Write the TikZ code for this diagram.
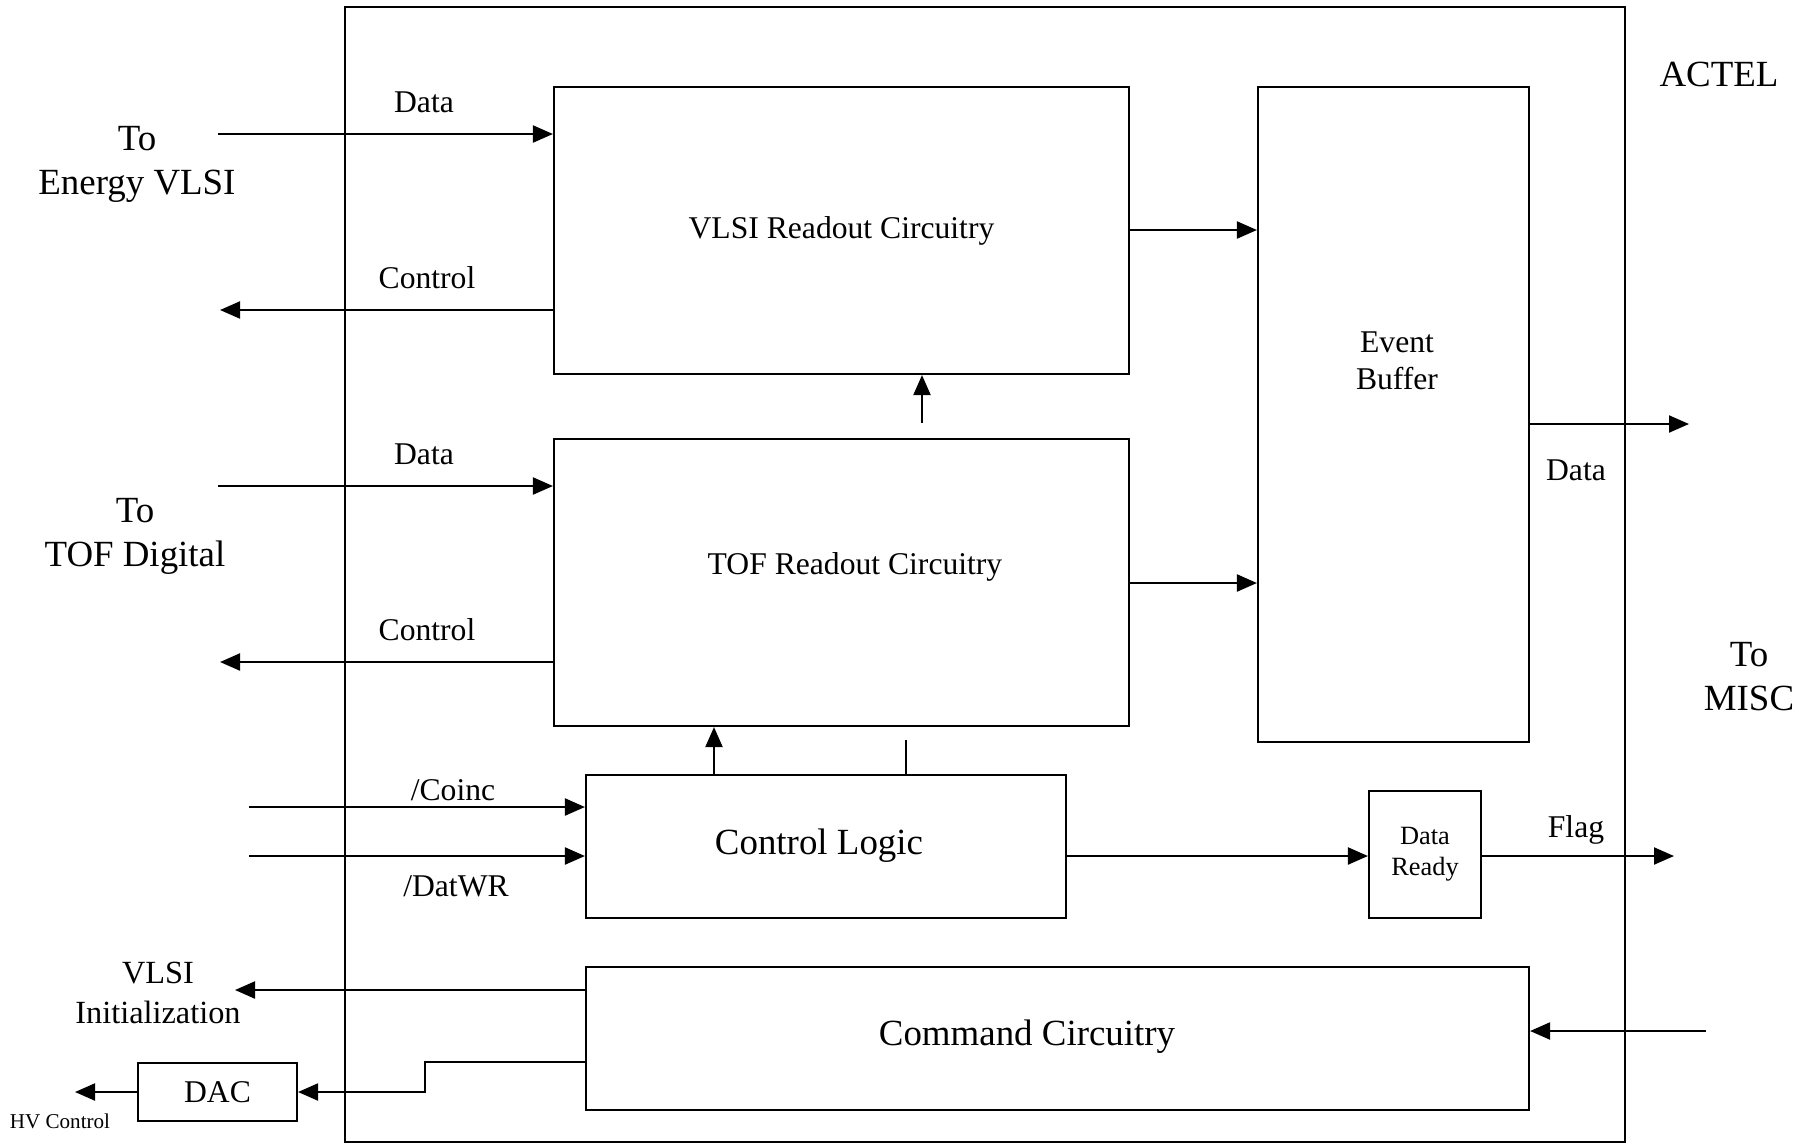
\documentclass[tikz,border=0pt]{standalone}
\usepackage{fontspec}
\setmainfont{Liberation Serif}
\usetikzlibrary{arrows.meta}

\tikzset{
  block/.style={draw, inner sep=0pt},
  arr/.style={-{Triangle[length=2mm,width=1.7mm]}},
  lbl/.style={font=\fontsize{9}{10.5}\selectfont, align=center},
  big/.style={font=\fontsize{10.5}{12.5}\selectfont, align=center}
}

\begin{document}
\begin{tikzpicture}[x=0.1mm, y=-0.1mm, line width=0.6pt]
  \useasboundingbox (0,0) rectangle (1816,1144);

  % --- ACTEL chip outline ---
  \node[block, minimum width=128mm, minimum height=113.5mm] (actel) at (985,574.5) {};
  \node[big] (actelT) at (1719,74) {ACTEL};

  % --- blocks inside the chip ---
  \node[block, minimum width=57.5mm, minimum height=28.7mm, lbl] (vlsi) at (841.5,230.5) {VLSI Readout Circuitry};
  \node[block, minimum width=57.5mm, minimum height=28.7mm] (tof) at (841.5,582.5) {};
  \node[lbl] (tofT) at (855,567) {TOF Readout Circuitry};
  \node[block, minimum width=27.1mm, minimum height=65.5mm] (buf) at (1393.5,414.5) {};
  \node[lbl] (bufT) at (1397,361) {Event\\Buffer};
  \node[block, minimum width=48mm, minimum height=14.3mm] (ctl) at (826,846.5) {};
  \node[font=\fontsize{10.5}{12.5}\selectfont] (ctlT) at (819,846) {Control Logic};
  \node[block, minimum width=11.2mm, minimum height=12.7mm, font=\fontsize{7.5}{8.9}\selectfont, align=center] (rdy) at (1425,854.5) {Data\\Ready};
  \node[block, minimum width=94.3mm, minimum height=14.3mm] (cmd) at (1057.5,1038.5) {};
  \node[font=\fontsize{10.5}{12.5}\selectfont] (cmdT) at (1027,1037) {Command Circuitry};
  \node[block, minimum width=15.9mm, minimum height=5.8mm, font=\fontsize{9}{11}\selectfont] (dac) at (217.5,1092) {DAC};

  % --- Energy VLSI side ---
  \node[big] (energy) at (137,164) {To\\Energy VLSI};
  \coordinate (eData) at (218,134);
  \coordinate (eCtl) at (220,310);
  \draw[arr] (eData) -- (eData -| vlsi.west);
  \draw[arr] (eCtl -| vlsi.west) -- (eCtl);
  \node[lbl] (eDataT) at (424,102) {Data};
  \node[lbl] (eCtlT) at (427,278) {Control};

  % --- TOF Digital side ---
  \node[big] (tofd) at (135,536) {To\\TOF Digital};
  \coordinate (tData) at (218,486);
  \coordinate (tCtl) at (220,662);
  \draw[arr] (tData) -- (tData -| tof.west);
  \draw[arr] (tCtl -| tof.west) -- (tCtl);
  \node[lbl] (tDataT) at (424,454) {Data};
  \node[lbl] (tCtlT) at (427,630) {Control};

  % --- into the event buffer ---
  \coordinate (v2b) at (1129,230);
  \coordinate (t2b) at (1129,583);
  \draw[arr] (v2b -| vlsi.east) -- (v2b -| buf.west);
  \draw[arr] (t2b -| tof.east) -- (t2b -| buf.west);
  \coordinate (upv) at (922,423);
  \draw[arr] (upv) -- (upv |- vlsi.south);

  % --- out to MISC ---
  \node[big] (misc) at (1749,677) {To\\MISC};
  \coordinate (bOut) at (1689,424);
  \draw[arr] (bOut -| buf.east) -- (bOut);
  \node[lbl] (bOutT) at (1576,470) {Data};

  % --- control logic ---
  \coordinate (c2t) at (714,760);
  \draw[arr] (c2t |- ctl.north) -- (c2t |- tof.south);
  \coordinate (tick) at (906,740);
  \draw (tick |- ctl.north) -- (tick);
  \coordinate (coinc) at (249,807);
  \coordinate (datwr) at (249,856);
  \draw[arr] (coinc) -- (coinc -| ctl.west);
  \draw[arr] (datwr) -- (datwr -| ctl.west);
  \node[lbl] (coincT) at (453,790) {/Coinc};
  \node[lbl] (datwrT) at (456,886) {/DatWR};
  \draw[arr] (datwr -| ctl.east) -- (datwr -| rdy.west);
  \coordinate (flag) at (1674,856);
  \draw[arr] (flag -| rdy.east) -- (flag);
  \node[lbl] (flagT) at (1576,830) {Flag};

  % --- command circuitry ---
  \coordinate (cmdIn) at (1706,1031);
  \draw[arr] (cmdIn) -- (cmdIn -| cmd.east);
  \coordinate (init) at (235,990);
  \draw[arr] (init -| cmd.west) -- (init);
  \node[font=\fontsize{9.2}{11.2}\selectfont, align=center] (initT) at (158,993) {VLSI\\Initialization};
  \coordinate (hv) at (425,1062);
  \draw[arr] (hv -| cmd.west) -- (hv) |- (dac.east);
  \coordinate (hvOut) at (75,1092);
  \draw[arr] (dac.west) -- (hvOut);
  \node[font=\fontsize{6}{7}\selectfont] (hvT) at (60,1121) {HV Control};

\end{tikzpicture}
\end{document}
